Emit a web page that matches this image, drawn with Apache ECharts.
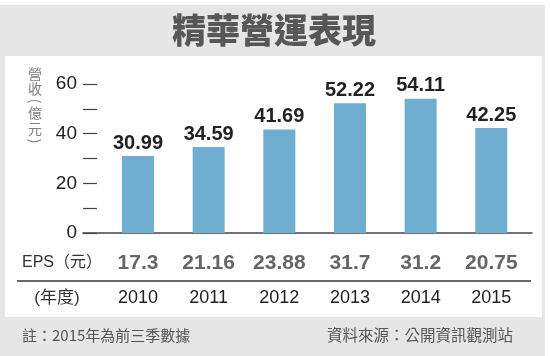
<!DOCTYPE html>
<html><head><meta charset="utf-8">
<script src="https://cdn.jsdelivr.net/npm/echarts@6/dist/echarts.min.js"></script>
<style>html,body{margin:0;padding:0;background:#fff}#c{width:550px;height:356px}</style>
</head><body><div id="c"></div>
<script>
const title = '精華營運表現';
const years = ['2010','2011','2012','2013','2014','2015'];
const revenue = [30.99, 34.59, 41.69, 52.22, 54.11, 42.25];
const eps = ['17.3','21.16','23.88','31.7','31.2','20.75'];
const yTicks = [0, 20, 40, 60];
const note = '註：2015年為前三季數據';
const source = '資料來源：公開資訊觀測站';

const FONT = '"Liberation Sans","Noto Sans CJK TC",sans-serif';
const CJK = '"Noto Sans CJK TC",sans-serif';
const chart = echarts.init(document.getElementById('c'), null, {renderer:'canvas'});
const G = {top:84, bottom:123};
const nameCol = '#808080';
function ch(t, y, rot) {
  return {type:'text', x:35, y:y, rotation:rot || 0,
    style:{text:t, font:'14px '+CJK, fill:nameCol, align:'center', verticalAlign:'middle'}};
}
chart.setOption({
  backgroundColor:'#fff',
  animation:false,
  graphic:[
    {type:'rect', z:-10, shape:{x:0,y:5,width:545,height:351}, style:{fill:'#e6e6e6'}},
    {type:'rect', z:-9, shape:{x:5,y:56,width:537,height:261}, style:{fill:'#fff'}},
    {type:'text', x:274, y:30, style:{text:title, font:'900 34px '+CJK, fill:'#575757', align:'center', verticalAlign:'middle'}},
    ch('營', 74), ch('收', 89), ch('(', 101, -Math.PI/2), ch('億', 113), ch('元', 129), ch(')', 141, -Math.PI/2),
    {type:'text', x:22, y:263, style:{text:'EPS（元）', font:'16px '+FONT, fill:'#333', align:'left', verticalAlign:'middle'}},
    {type:'text', x:57, y:298, style:{text:'(年度)', font:'17px '+FONT, fill:'#333', align:'center', verticalAlign:'middle'}},
    {type:'line', shape:{x1:17,y1:281,x2:531,y2:281}, style:{stroke:'#333', lineWidth:1.5}},
    {type:'text', x:22, y:335, style:{text:note, font:'15px '+CJK, fill:'#555', align:'left', verticalAlign:'middle'}},
    {type:'text', x:513, y:335, style:{text:source, font:'15.5px '+CJK, fill:'#555', align:'right', verticalAlign:'middle'}}
  ],
  grid:[
    {left:83, right:18, top:G.top, bottom:G.bottom},
    {left:102.65, right:23.35, top:G.top, bottom:G.bottom}
  ],
  xAxis:[
    {gridIndex:0, type:'value', min:0, max:1, axisLine:{show:true, onZero:false, lineStyle:{color:'#444', width:1.5}},
     axisTick:{show:false}, axisLabel:{show:false}, splitLine:{show:false}},
    {gridIndex:1, type:'category', data:years, axisLine:{show:false}, axisTick:{show:false},
     axisLabel:{margin:56, fontSize:18, fontFamily:FONT, color:'#222'}},
    {gridIndex:1, type:'category', data:eps, position:'bottom', axisLine:{show:false}, axisTick:{show:false},
     axisLabel:{margin:20, fontSize:21, fontWeight:'bold', fontFamily:FONT, color:'#666'}}
  ],
  yAxis:[
    {gridIndex:0, type:'value', min:0, max:60, interval:10,
     axisLine:{show:false}, axisTick:{show:true, inside:true, length:14, lineStyle:{color:'#444', width:1.2}},
     axisLabel:{margin:6, fontSize:19, fontFamily:FONT, color:'#222',
       formatter:v => yTicks.includes(v) ? String(v) : ''},
     splitLine:{show:false}},
    {gridIndex:1, type:'value', min:0, max:60, interval:10, show:false}
  ],
  series:[{
    type:'bar', xAxisIndex:1, yAxisIndex:1, data:revenue, barWidth:32,
    itemStyle:{color:'#70aed1'},
    label:{show:true, position:'top', distance:3, fontSize:20, fontWeight:'bold', fontFamily:FONT, color:'#222',
      formatter:p => p.value.toFixed(2)}
  }]
});
</script></body></html>
